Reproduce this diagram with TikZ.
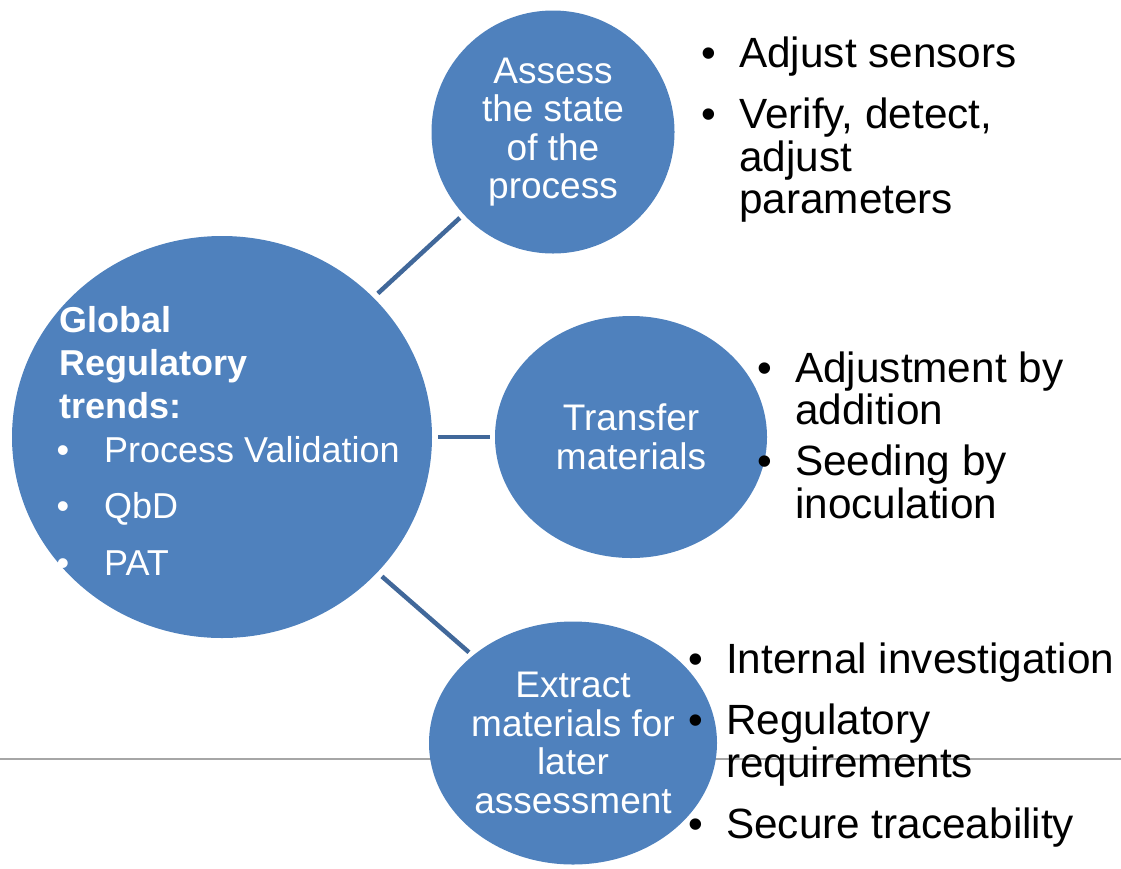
\documentclass[tikz,border=0pt]{standalone}
\usepackage{fontspec}
\setmainfont{Liberation Sans}
\usetikzlibrary{shapes.geometric}
\definecolor{bubble}{HTML}{4F81BD}
\definecolor{conn}{HTML}{41689A}
\definecolor{rulegray}{HTML}{A6A6A6}
\tikzset{
  bub/.style={ellipse, fill=bubble, draw=none, inner sep=0pt, text=white, align=center,
              font=\fontsize{37}{38.5}\selectfont},
  link/.style={draw=conn, line width=4.5pt, shorten <=6pt, shorten >=5pt},
  lt/.style={anchor=base west, inner sep=0pt, font=\fontsize{42.3}{43}\selectfont},
  bt/.style={anchor=base, inner sep=0pt, font=\fontsize{42}{43}\selectfont},
  wt/.style={anchor=base west, inner sep=0pt, text=white, font=\fontsize{36}{43}\selectfont},
  wb/.style={anchor=base, inner sep=0pt, text=white, font=\fontsize{36}{43}\selectfont},
}
\begin{document}
\begin{tikzpicture}[x=1pt,y=-1pt]
\useasboundingbox (0,0) rectangle (1121,868);
% thin gray rule behind
\coordinate (r0) at (0,759);
\coordinate (r1) at (1121,759);
\draw[rulegray, line width=1.5pt] (r0) -- (r1);
% bubbles
\node[bub, minimum width=420pt, minimum height=402pt] (big) at (222,437) {};
\node[bub, minimum width=243pt, minimum height=243pt] (top) at (553,132) {Assess\\the state\\of the\\process};
\node[bub, minimum width=272pt, minimum height=242pt] (mid) at (631,437) {Transfer\\materials};
\node[bub, minimum width=288pt, minimum height=243pt] (bot) at (573,743) {Extract\\materials for\\later\\assessment};
% connectors
\draw[link] (big) -- (top);
\draw[link] (big) -- (mid);
\draw[link] (big) -- (bot);
% big bubble text
\node[wt, font=\fontsize{36}{43}\selectfont\bfseries] (g1) at (59,332) {Global};
\node[wt, font=\fontsize{36}{43}\selectfont\bfseries] (g2) at (59,375) {Regulatory};
\node[wt, font=\fontsize{36}{43}\selectfont\bfseries] (g3) at (59,418) {trends:};
\node[wb] (gb1) at (63,462) {•};
\node[wt] (gi1) at (104,462) {Process Validation};
\node[wb] (gb2) at (63,518) {•};
\node[wt] (gi2) at (104,518) {QbD};
\node[wb] (gb3) at (63,575) {•};
\node[wt] (gi3) at (104,575) {PAT};
% top right list
\node[bt] (tb1) at (709,67) {•};
\node[lt] (t1) at (739,67) {Adjust sensors};
\node[bt] (tb2) at (709,128) {•};
\node[lt] (t2a) at (739,128) {Verify, detect,};
\node[lt] (t2b) at (739,171) {adjust};
\node[lt] (t2c) at (739,213) {parameters};
% middle right list
\node[bt] (mb1) at (765,382) {•};
\node[lt] (m1a) at (795,382) {Adjustment by};
\node[lt] (m1b) at (795,424) {addition};
\node[bt] (mb2) at (765,475) {•};
\node[lt] (m2a) at (795,475) {Seeding by};
\node[lt] (m2b) at (795,518) {inoculation};
% bottom right list
\node[bt] (bb1) at (696,673) {•};
\node[lt] (b1) at (726,673) {Internal investigation};
\node[bt] (bb2) at (696,734) {•};
\node[lt] (b2a) at (726,734) {Regulatory};
\node[lt] (b2b) at (726,777) {requirements};
\node[bt] (bb3) at (696,838) {•};
\node[lt] (b3) at (726,838) {Secure traceability};
\end{tikzpicture}
\end{document}
